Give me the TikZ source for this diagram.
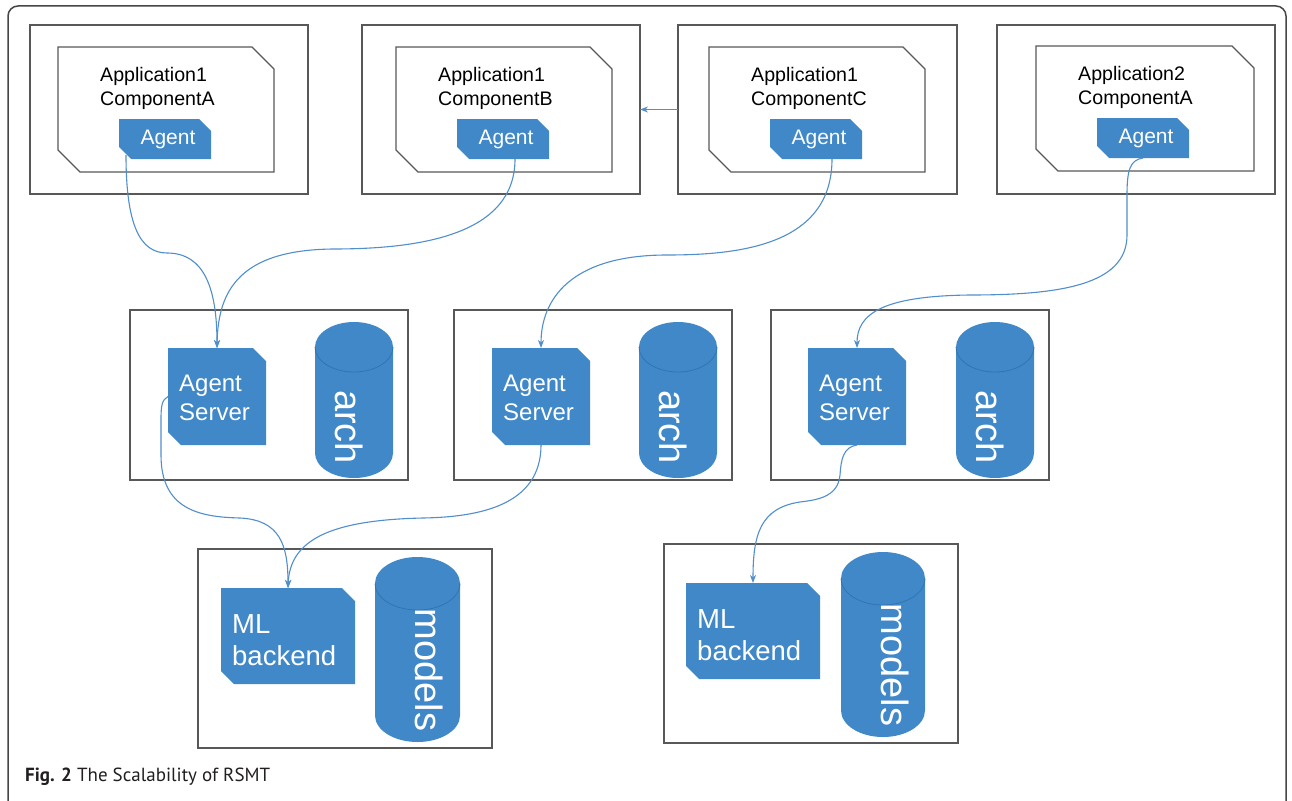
\documentclass[tikz,border=0pt]{standalone}
\usepackage{fontspec}
\setmainfont{Liberation Sans}
\newfontfamily\capfont{PT Sans}
\usetikzlibrary{fit,arrows.meta}
\definecolor{kblue}{RGB}{64,136,200}
\definecolor{kline}{RGB}{80,142,204}
\definecolor{kseam}{RGB}{50,116,178}
\definecolor{kgray}{RGB}{88,88,88}
\definecolor{kframe}{RGB}{70,70,70}
\definecolor{kcap}{RGB}{35,31,32}
\newcommand{\snipnode}[7]{%
  \path[#2] (#3,#4) -- (#5-#7,#4) -- (#5,#4+#7) -- (#5,#6) -- (#3+#7,#6) -- (#3,#6-#7) -- cycle;
  \node[inner sep=0pt, outer sep=0pt, fit={(#3,#4) (#5,#6)}] (#1) {};
}
\newcommand{\cylnode}[6]{%
  \fill[kblue] (#2,#3+#6) arc[start angle=180,end angle=360,x radius={(#4-#2)/2},y radius=#6]
     -- (#4,#5-#6) arc[start angle=0,end angle=180,x radius={(#4-#2)/2},y radius=#6] -- cycle;
  \draw[kseam, line width=0.8pt] (#2,#3+#6) arc[start angle=180,end angle=0,x radius={(#4-#2)/2},y radius=#6];
  \node[inner sep=0pt, outer sep=0pt, fit={(#2,#3) (#4,#5)}] (#1) {};
}
\tikzset{
  hostbox/.style={draw=kgray, line width=1.3pt, inner sep=0pt, outer sep=0pt},
  compshape/.style={draw=kgray, line width=1.1pt},
  blueshape/.style={fill=kblue},
  comptext/.style={anchor=base west, inner sep=0pt, align=left, font=\fontsize{19.6}{24}\selectfont},
  agtext/.style={anchor=base, inner sep=0pt, text=white, font=\fontsize{21}{24}\selectfont},
  astext/.style={anchor=base west, inner sep=0pt, align=left, text=white, font=\fontsize{24}{29}\selectfont},
  mltext/.style={anchor=base west, inner sep=0pt, align=left, text=white, font=\fontsize{27.5}{32}\selectfont},
  cyltext/.style={rotate=-90, inner sep=0pt, text=white, font=\fontsize{38}{40}\selectfont},
  conn/.style={draw=kline, line width=1.1pt, -{Stealth[length=8pt,width=6pt,inset=2.5pt]}},
}
\begin{document}
\begin{tikzpicture}[x=1pt,y=-1pt]
\useasboundingbox (0,0) rectangle (1292,800);
\fill[white] (0,0) rectangle (1292,800);
\draw[kframe, line width=1.5pt, rounded corners=10pt] (8,805) -- (8,6) -- (1286,6) -- (1286,805);

% top hosts
\node[hostbox, fit={(30,25) (308,194)}] (app1) {};
\node[hostbox, fit={(362,25) (640,194)}] (app2) {};
\node[hostbox, fit={(678,25) (957,194)}] (app3) {};
\node[hostbox, fit={(997,25) (1275,194)}] (app4) {};

\snipnode{comp1}{compshape}{58}{47}{274}{172}{22}
\snipnode{comp2}{compshape}{396}{47}{612}{172}{22}
\snipnode{comp3}{compshape}{709}{47}{925}{172}{22}
\snipnode{comp4}{compshape}{1036}{46}{1254}{171}{22}

\node[comptext] (t1) at (100,105) {Application1\\ComponentA};
\node[comptext] (t2) at (438,105) {Application1\\ComponentB};
\node[comptext] (t3) at (751,105) {Application1\\ComponentC};
\node[comptext] (t4) at (1078,104) {Application2\\ComponentA};

\snipnode{ag1}{blueshape}{119}{119}{211}{159}{12}
\snipnode{ag2}{blueshape}{457}{119}{549}{159}{12}
\snipnode{ag3}{blueshape}{770}{119}{862}{159}{12}
\snipnode{ag4}{blueshape}{1097}{118}{1189}{158}{12}
\node[agtext] (agt1) at (168,144) {Agent};
\node[agtext] (agt2) at (506,144) {Agent};
\node[agtext] (agt3) at (819,144) {Agent};
\node[agtext] (agt4) at (1146,143) {Agent};

% middle hosts
\node[hostbox, fit={(130,310) (408,480)}] (srv1) {};
\node[hostbox, fit={(454,310) (732,480)}] (srv2) {};
\node[hostbox, fit={(771,310) (1049,480)}] (srv3) {};

\snipnode{as1}{blueshape}{168}{348}{266}{445}{13}
\snipnode{as2}{blueshape}{492}{348}{590}{445}{13}
\snipnode{as3}{blueshape}{808}{348}{906}{445}{13}
\node[astext] (ast1) at (179,420) {Agent\\Server};
\node[astext] (ast2) at (503,420) {Agent\\Server};
\node[astext] (ast3) at (819,420) {Agent\\Server};

\cylnode{arch1}{315}{322}{393}{478}{25}
\cylnode{arch2}{639}{322}{717}{478}{25}
\cylnode{arch3}{956}{322}{1034}{478}{25}
\node[cyltext] (archt1) at (349,427) {arch};
\node[cyltext] (archt2) at (673,427) {arch};
\node[cyltext] (archt3) at (990,427) {arch};

% bottom hosts
\node[hostbox, fit={(198,549) (492,748)}] (be1) {};
\node[hostbox, fit={(664,544) (958,743)}] (be2) {};

\snipnode{ml1}{blueshape}{221}{588}{355}{684}{13}
\snipnode{ml2}{blueshape}{686}{583}{820}{679}{13}
\node[mltext] (mlt1) at (232,665) {ML\\backend};
\node[mltext] (mlt2) at (697,660) {ML\\backend};

\cylnode{mod1}{375}{557}{460}{742}{26.5}
\cylnode{mod2}{841}{552}{925}{737}{26.5}
\node[cyltext] (modt1) at (429,670) {models};
\node[cyltext] (modt2) at (895,665) {models};

% connectors
\draw[conn] (app3.west) -- (app2.east);
\draw[conn] ([xshift=7pt,yshift=4pt]ag1.south west) .. controls (126,225) and (140,253) .. (167,253)
   .. controls (205,253) and (217,290) .. (as1.north);
\draw[conn] ([xshift=12pt]ag2.south) .. controls (515,235) and (420,249) .. (333,249)
   .. controls (240,250) and (218,290) .. (as1.north);
\draw[conn] ([xshift=16pt]ag3.south) .. controls (832,245) and (740,255) .. (667,255)
   .. controls (570,255) and (541,300) .. (as2.north);
\draw[conn] (ag4.south) .. controls (1130,160) and (1127,170) .. (1127,195) -- (1127,235)
   .. controls (1127,285) and (1060,295) .. (970,295) .. controls (880,296) and (857,315) .. (as3.north);
\draw[conn] (as1.west) .. controls (162,400) and (161,405) .. (161,420) -- (161,455)
   .. controls (161,510) and (200,517) .. (240,518) .. controls (280,520) and (288,545) .. (ml1.north);
\draw[conn] (as2.south) .. controls (541,505) and (480,517) .. (423,518)
   .. controls (330,520) and (290,540) .. (ml1.north);
\draw[conn] (as3.south) .. controls (843,447) and (841,460) .. (840,475)
   .. controls (838,498) and (815,500) .. (800,502) .. controls (760,508) and (753,535) .. (ml2.north);

\node[anchor=base west, inner sep=0pt, text=kcap, font=\capfont\fontsize{19}{24}\selectfont] (cap) at (25,781) {\textbf{Fig. 2} The Scalability of RSMT};
\end{tikzpicture}
\end{document}
